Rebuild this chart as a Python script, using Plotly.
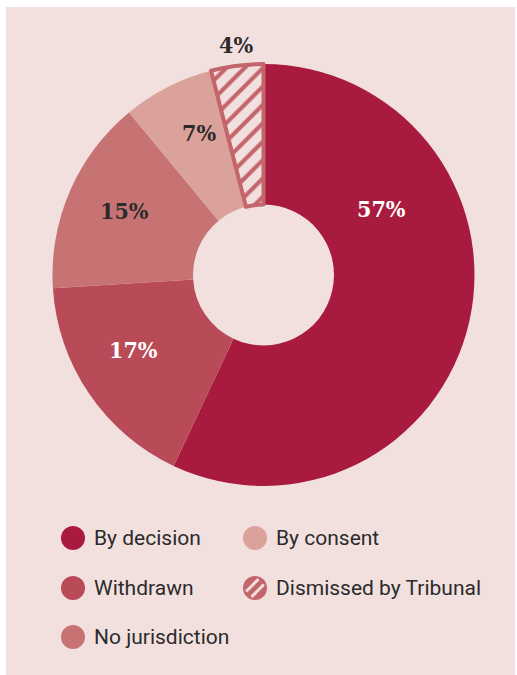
import math
import plotly.graph_objects as go

# Case outcomes (share of closed cases, %)
labels = ["By decision", "Withdrawn", "No jurisdiction", "By consent", "Dismissed by Tribunal"]
values = [57, 17, 15, 7, 4]
colors = ["#a91b3e", "#b94b58", "#c87373", "#dba19b", "#c4656b"]
label_colors = ["#ffffff", "#ffffff", "#2b2b2b", "#2b2b2b", "#2b2b2b"]

W, H = 517, 675
BG = "#f2e0df"
HATCH = "#c4656b"

def px(x):
    return x / W

def py(y):
    return 1 - y / H

# donut geometry in pixels
cx, cy, R = 263.5, 275, 211

fig = go.Figure()
fig.add_trace(go.Pie(
    labels=labels,
    values=values,
    sort=False,
    direction="clockwise",
    rotation=0,
    hole=0.334,
    textinfo="none",
    hoverinfo="label+percent",
    showlegend=False,
    domain=dict(x=[px(cx - R), px(cx + R)], y=[py(cy + R), py(cy - R)]),
    marker=dict(
        colors=colors,
        line=dict(color=[BG, BG, BG, BG, HATCH], width=[0, 0, 0, 0, 4]),
        pattern=dict(
            shape=["", "", "", "", "/"],
            fgcolor=HATCH,
            bgcolor=[colors[0], colors[1], colors[2], colors[3], BG],
            size=13,
            solidity=0.32,
            fillmode="replace",
        ),
    ),
))

shapes = [
    dict(type="rect", xref="paper", yref="paper", x0=px(6), x1=px(515), y0=0, y1=py(7),
         fillcolor=BG, line=dict(width=0), layer="below"),
]
annotations = []

# value labels placed around the ring
label_pos = [(381, 208), (133, 349), (124, 210), (199, 132), (236, 45)]
for v, (x, y), c in zip(values, label_pos, label_colors):
    annotations.append(dict(
        x=px(x), y=py(y), xref="paper", yref="paper", text=f"{v}%", showarrow=False,
        xanchor="center", yanchor="middle",
        font=dict(family="DejaVu Serif Condensed, DejaVu Serif", size=23, color=c, weight="bold"),
    ))

# legend laid out in two columns
legend_pos = {
    "By decision": (73, 538),
    "Withdrawn": (73, 588),
    "No jurisdiction": (73, 637),
    "By consent": (255, 538),
    "Dismissed by Tribunal": (255, 588),
}
r = 12
for lab, col in zip(labels, colors):
    lx, ly = legend_pos[lab]
    shapes.append(dict(type="circle", xref="paper", yref="paper",
                       x0=px(lx - r), x1=px(lx + r), y0=py(ly + r), y1=py(ly - r),
                       fillcolor=col, line=dict(width=0)))
    if lab == "Dismissed by Tribunal":
        d = (1 / math.sqrt(2), -1 / math.sqrt(2))
        n = (1 / math.sqrt(2), 1 / math.sqrt(2))
        for o in (-3.8, 3.8):
            h = math.sqrt(9.5 ** 2 - o ** 2)
            mx, my = lx + o * n[0], ly + o * n[1]
            shapes.append(dict(type="line", xref="paper", yref="paper",
                               x0=px(mx - h * d[0]), y0=py(my - h * d[1]),
                               x1=px(mx + h * d[0]), y1=py(my + h * d[1]),
                               line=dict(color=BG, width=3)))
    annotations.append(dict(
        x=px(lx + 19), y=py(ly), xref="paper", yref="paper", text=lab, showarrow=False,
        xanchor="left", yanchor="middle",
        font=dict(family="Roboto", size=21, color="#2b2b2b"),
    ))

fig.update_layout(
    width=W, height=H,
    margin=dict(l=0, r=0, t=0, b=0),
    paper_bgcolor="#ffffff",
    shapes=shapes,
    annotations=annotations,
)

fig.write_html("out.html")
